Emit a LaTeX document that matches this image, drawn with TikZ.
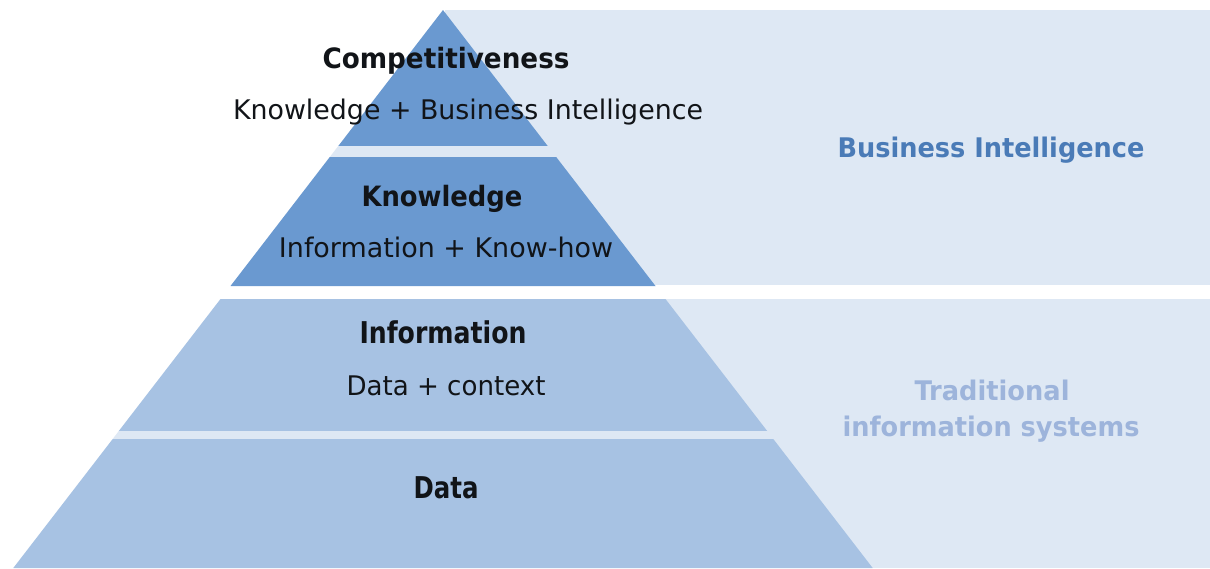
\documentclass[tikz,border=0pt]{standalone}
\usepackage{fontspec}
\setmainfont{DejaVu Sans}
\usepackage{graphicx}
\definecolor{panel}{HTML}{DEE8F4}
\definecolor{darkblue}{HTML}{6A99D0}
\definecolor{lightblue}{HTML}{A7C2E3}
\definecolor{bitext}{HTML}{4A7BB7}
\definecolor{tistext}{HTML}{9DB4DB}
\definecolor{ink}{HTML}{111418}
\newcommand{\fitw}[2]{\resizebox{#1pt}{\height}{#2}}
\tikzset{
  title/.style={anchor=base, inner sep=0pt, text=ink, font=\fontsize{28}{30}\selectfont\bfseries},
  narrowtitle/.style={anchor=base, inner sep=0pt, text=ink, font=\fontsize{30}{32}\selectfont\bfseries},
  sub/.style={anchor=base, inner sep=0pt, text=ink, font=\fontsize{27}{30}\selectfont},
  side/.style={anchor=base, inner sep=0pt, font=\fontsize{27}{30}\selectfont\bfseries}
}
\begin{document}
\begin{tikzpicture}[x=1pt,y=-1pt]
\useasboundingbox (0,0) rectangle (1210,568);
\fill[white] (0,0) rectangle (1210,568);
% side panels
\fill[panel] (445,10) rectangle (1210,285);
\fill[panel] (445,299) rectangle (1210,568);
% pyramid levels
\fill[darkblue] (443,10) -- (547.7,146) -- (338.3,146) -- cycle;
\fill[panel] (338.3,146) -- (547.7,146) -- (556.2,157) -- (329.8,157) -- cycle;
\fill[darkblue] (329.8,157) -- (556.2,157) -- (655.5,286) -- (230.5,286) -- cycle;
\fill[lightblue] (220.5,299) -- (665.5,299) -- (767.2,431) -- (118.8,431) -- cycle;
\fill[panel] (118.8,431) -- (767.2,431) -- (773.3,439) -- (112.7,439) -- cycle;
\fill[lightblue] (112.7,439) -- (773.3,439) -- (872.7,568) -- (13.3,568) -- cycle;
% texts
\node[title] (comp) at (446,68) {\fitw{247}{Competitiveness}};
\node[sub] (compsub) at (468,119) {\fitw{470}{Knowledge + Business Intelligence}};
\node[title] (know) at (442,206) {\fitw{161}{Knowledge}};
\node[sub] (knowsub) at (446,257) {\fitw{334}{Information + Know-how}};
\node[narrowtitle] (info) at (443,343) {\fitw{167}{Information}};
\node[sub] (infosub) at (446,395) {\fitw{199}{Data + context}};
\node[narrowtitle] (data) at (446,498) {\fitw{65}{Data}};
\node[side, text=bitext] (bi) at (991,157) {\fitw{307}{Business Intelligence}};
\node[side, text=tistext] (tis1) at (992,400) {\fitw{155}{Traditional}};
\node[side, text=tistext] (tis2) at (991,436) {\fitw{297}{information systems}};
\end{tikzpicture}
\end{document}
